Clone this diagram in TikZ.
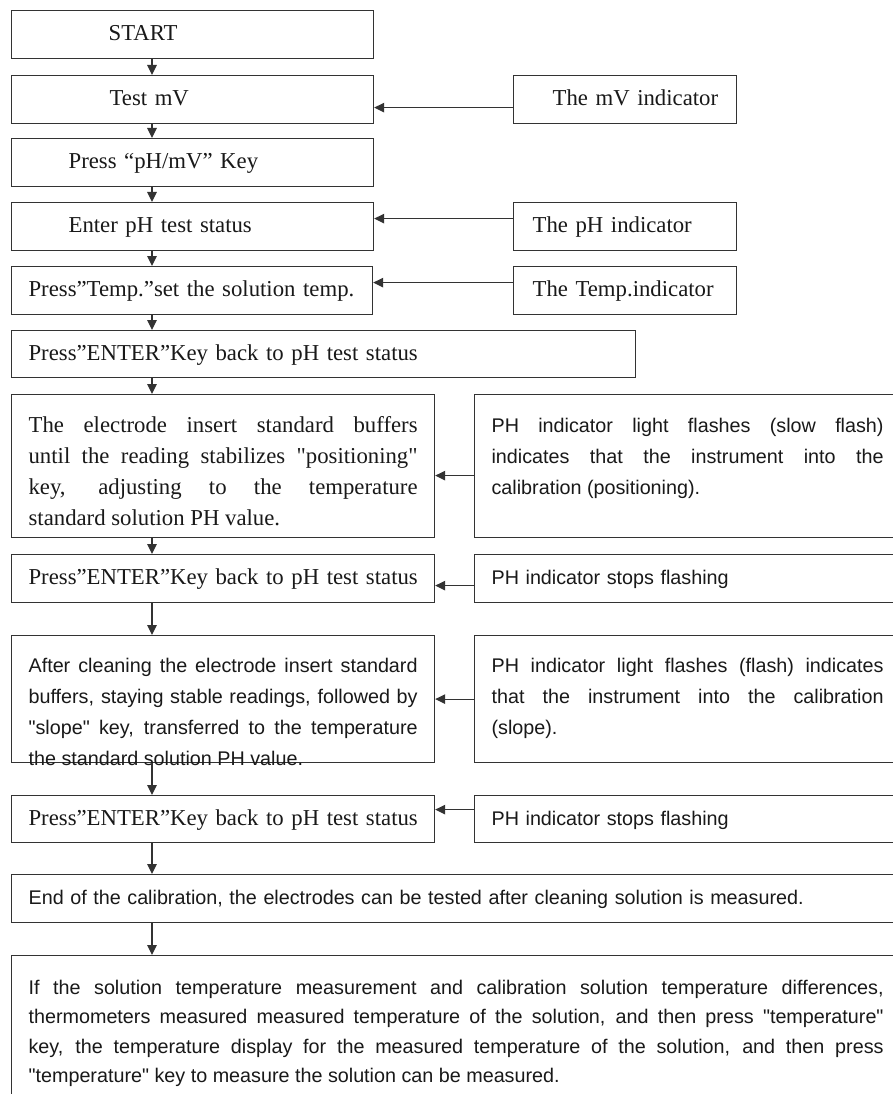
\documentclass[tikz,border=0pt]{standalone}
\usepackage{fontspec}
\setmainfont{Liberation Serif}[Ligatures=TeXOff]
\setsansfont{Liberation Sans}[Ligatures=TeXOff]
\usetikzlibrary{arrows.meta}
\tolerance=10000
\hbadness=10000
\hyphenpenalty=10000
\exhyphenpenalty=10000
\newcommand\topstrut[1]{\rule{0pt}{#1}}
\tikzset{
  box/.style={draw=black!80, line width=1.2pt, rectangle, anchor=north west,
    inner xsep=17pt, inner ysep=0pt, text=black!90},
  serifline/.style={box, font=\fontsize{22.75}{31}\selectfont, align=left},
  serifpar/.style={box, font=\fontsize{22.75}{31}\selectfont, align=justify},
  sansline/.style={box, font=\sffamily\fontsize{19.75}{31}\selectfont, align=left},
  sanspar/.style={box, font=\sffamily\fontsize{19.75}{31}\selectfont, align=justify},
  arr/.style={draw=black!80, line width=1.2pt, -{Triangle[length=10pt,width=9.5pt]}},
}
\begin{document}
\begin{tikzpicture}[x=1pt,y=-1pt]
\fill[white] (0,0) rectangle (893,1094);
\clip (0,0) rectangle (893,1094);
% left column
\node[serifline, text width=328pt, minimum height=48pt] (start) at (11,10) {\strut\hspace*{80pt}\mbox{START}};
\node[serifline, text width=328pt, minimum height=48pt] (testmv) at (11,75) {\strut\hspace*{81pt}\mbox{Test mV}};
\node[serifline, text width=328pt, minimum height=48pt] (phmv) at (11,138) {\strut\hspace*{40pt}\mbox{Press “pH/mV” Key}};
\node[serifline, text width=328pt, minimum height=48pt] (enterph) at (11,202) {\strut\hspace*{40pt}\mbox{Enter pH test status}};
\node[serifline, text width=327pt, minimum height=48pt] (temp) at (11,266) {\strut\mbox{Press”Temp.”set the solution temp.}};
\node[serifline, text width=590pt, minimum height=47pt] (enter1) at (11,330) {\strut\mbox{Press”ENTER”Key back to pH test status}};
\node[serifpar, text width=389pt, minimum height=143pt] (electrode) at (11,394) {\topstrut{35.7pt}The electrode insert standard buffers\linebreak until the reading stabilizes "positioning"\linebreak key, adjusting to the temperature\linebreak standard solution PH value.\strut};
\node[serifline, text width=389pt, minimum height=48pt] (enter2) at (11,554) {\strut\mbox{Press”ENTER”Key back to pH test status}};
\node[sanspar, text width=389pt, minimum height=127pt] (slope) at (11,635) {\strut After cleaning the electrode insert standard\linebreak buffers, staying stable readings, followed by\linebreak "slope" key, transferred to the temperature\linebreak the standard solution PH value.\strut\par\vspace*{-28pt}};
\node[serifline, text width=389pt, minimum height=47pt] (enter3) at (11,795) {\strut\mbox{Press”ENTER”Key back to pH test status}};
\node[sansline, text width=855pt, minimum height=48pt] (endcal) at (11,874) {\strut\mbox{End of the calibration, the electrodes can be tested after cleaning solution is measured.}};
\node[sanspar, font=\sffamily\fontsize{19.75}{29.3}\selectfont, text width=855pt, minimum height=180pt] (last) at (11,955) {\topstrut{36.5pt}If the solution temperature measurement and calibration solution temperature differences,\linebreak thermometers measured measured temperature of the solution, and then press "temperature"\linebreak key, the temperature display for the measured temperature of the solution, and then press\linebreak "temperature" key to measure the solution can be measured.\strut\par\vspace*{42pt}};
% right column
\node[serifline, text width=189pt, minimum height=48pt] (mvind) at (513,75) {\strut\hspace*{22pt}\mbox{The mV indicator}};
\node[serifline, text width=189pt, minimum height=48pt] (phind) at (513,202) {\strut\hspace*{2pt}\mbox{The pH indicator}};
\node[serifline, text width=189pt, minimum height=48pt] (tempind) at (513,266) {\strut\hspace*{2pt}\mbox{The Temp.indicator}};
\node[sanspar, text width=392pt, minimum height=143pt] (flash1) at (474,394) {\topstrut{35.7pt}PH indicator light flashes (slow flash)\linebreak indicates that the instrument into the\linebreak calibration (positioning).\strut\par\vspace*{31.4pt}};
\node[sansline, text width=392pt, minimum height=48pt] (stop1) at (474,554) {\strut\mbox{PH indicator stops flashing}};
\node[sanspar, text width=392pt, minimum height=127pt] (flash2) at (474,635) {\topstrut{35.7pt}PH indicator light flashes (flash) indicates\linebreak that the instrument into the calibration\linebreak (slope).\strut\par\vspace*{17.4pt}};
\node[sansline, text width=392pt, minimum height=47pt] (stop2) at (474,795) {\strut\mbox{PH indicator stops flashing}};
% vertical connectors
\coordinate (ax) at (152,0);
\draw[arr] (start.south -| ax) -- (testmv.north -| ax);
\draw[arr] (testmv.south -| ax) -- (phmv.north -| ax);
\draw[arr] (phmv.south -| ax) -- (enterph.north -| ax);
\draw[arr] (enterph.south -| ax) -- (temp.north -| ax);
\draw[arr] (temp.south -| ax) -- (enter1.north -| ax);
\draw[arr] (enter1.south -| ax) -- (electrode.north -| ax);
\draw[arr] (electrode.south -| ax) -- (enter2.north -| ax);
\draw[arr] (enter2.south -| ax) -- (slope.north -| ax);
\draw[arr] (slope.south -| ax) -- (enter3.north -| ax);
\draw[arr] (enter3.south -| ax) -- (endcal.north -| ax);
\draw[arr] (endcal.south -| ax) -- (last.north -| ax);
% horizontal connectors
\coordinate (h1) at ([yshift=-8pt]mvind.west);
\coordinate (h2) at ([yshift=8pt]phind.west);
\coordinate (h3) at ([yshift=8pt]tempind.west);
\coordinate (h4) at ([yshift=-9.5pt]flash1.west);
\coordinate (h5) at ([yshift=-7pt]stop1.west);
\coordinate (h6) at (flash2.west);
\coordinate (h7) at ([yshift=9.5pt]stop2.west);
\draw[arr] (h1) -- (h1 -| testmv.east);
\draw[arr] (h2) -- (h2 -| enterph.east);
\draw[arr] (h3) -- (h3 -| temp.east);
\draw[arr] (h4) -- (h4 -| electrode.east);
\draw[arr] (h5) -- (h5 -| enter2.east);
\draw[arr] (h6) -- (h6 -| slope.east);
\draw[arr] (h7) -- (h7 -| enter3.east);
\end{tikzpicture}
\end{document}
